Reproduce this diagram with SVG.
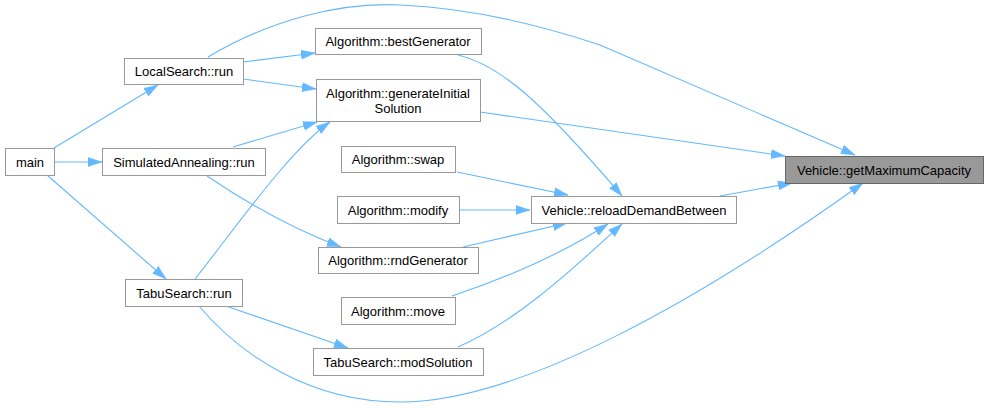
<svg xmlns="http://www.w3.org/2000/svg" width="988" height="409" viewBox="0 0 988 409">
<defs>
<style>
.n rect{fill:#fff;stroke:#999;stroke-width:1}
.n.h rect{fill:#999;stroke:#666}
.n text{font-family:"Liberation Sans",Arial,sans-serif;font-size:13px;fill:#000;text-anchor:middle}
.e path{fill:none;stroke:#63b8ff;stroke-width:1.1;marker-end:url(#ah)}
</style>
<marker id="ah" viewBox="0 0 14 10" refX="14" refY="5" markerWidth="14" markerHeight="10" markerUnits="userSpaceOnUse" orient="auto">
<path d="M0,0.5 L14,5 L0,9.5 z" fill="#63b8ff" stroke="#63b8ff" stroke-width="0.5"/>
</marker>
</defs>
<rect width="988" height="409" fill="#fff"/>
<g id="edges" class="e">
<path d="M54,148 L158,85"/>
<path d="M54,162 L102,162"/>
<path d="M47,175 L166,279"/>
<path d="M243,62 L315,53"/>
<path d="M243,79 L316,89"/>
<path d="M208,57 C270,20 340,2 400,5 C470,8 540,25 600,45 L855,155"/>
<path d="M233,147 L317,122"/>
<path d="M207,176 C250,205 295,230 341,247"/>
<path d="M195,279 C240,222 290,150 330,122"/>
<path d="M223,305 L348,348"/>
<path d="M198,305 C240,355 310,402 400,402 C520,402 700,300 863,183"/>
<path d="M458,55 C500,65 540,100 622,196"/>
<path d="M480,112 L785,156"/>
<path d="M457,172 L568,195"/>
<path d="M460,210 L530,210"/>
<path d="M463,247 L567,223"/>
<path d="M452,296 C500,280 560,255 608,224"/>
<path d="M458,347 C520,320 580,262 622,224"/>
<path d="M720,196 L792,183"/>
</g>
<g id="main" class="n"><rect x="5.5" y="148.5" width="49" height="27"/><text x="30" y="166.5">main</text></g>
<g id="localsearch_run" class="n"><rect x="124.5" y="58.5" width="119" height="26"/><text x="184" y="76">LocalSearch::run</text></g>
<g id="simulatedannealing_run" class="n"><rect x="102.5" y="148.5" width="163" height="27"/><text x="184" y="166.5">SimulatedAnnealing::run</text></g>
<g id="tabusearch_run" class="n"><rect x="125.5" y="279.5" width="117" height="27"/><text x="184" y="297.5">TabuSearch::run</text></g>
<g id="bestgenerator" class="n"><rect x="315.5" y="28.5" width="166" height="26"/><text x="398" y="46">Algorithm::bestGenerator</text></g>
<g id="generateinitialsolution" class="n"><rect x="316.5" y="79.5" width="164" height="42"/><text x="398" y="97.5">Algorithm::generateInitial</text><text x="398" y="112.5">Solution</text></g>
<g id="swap" class="n"><rect x="341.5" y="146.5" width="114" height="26"/><text x="398" y="164">Algorithm::swap</text></g>
<g id="modify" class="n"><rect x="337.5" y="196.5" width="122" height="27"/><text x="398" y="214.5">Algorithm::modify</text></g>
<g id="rndgenerator" class="n"><rect x="318.5" y="247.5" width="160" height="26"/><text x="398" y="265">Algorithm::rndGenerator</text></g>
<g id="move" class="n"><rect x="341.5" y="297.5" width="114" height="27"/><text x="398" y="315.5">Algorithm::move</text></g>
<g id="modsolution" class="n"><rect x="313.5" y="348.5" width="170" height="27"/><text x="398" y="366.5">TabuSearch::modSolution</text></g>
<g id="reloaddemandbetween" class="n"><rect x="531.5" y="196.5" width="205" height="27"/><text x="634" y="214.5">Vehicle::reloadDemandBetween</text></g>
<g id="getmaximumcapacity" class="n h"><rect x="785.5" y="156.5" width="198" height="27"/><text x="884" y="174.5">Vehicle::getMaximumCapacity</text></g>
</svg>
